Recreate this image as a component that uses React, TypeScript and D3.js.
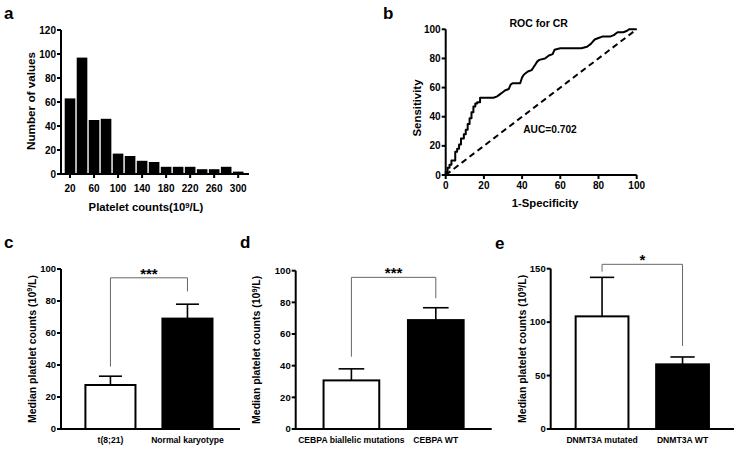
import React from "react";
import * as d3 from "d3";

// ---------- Data ----------
const histBins = [20, 40, 60, 80, 100, 120, 140, 160, 180, 200, 220, 240, 260, 280, 300];
const histCounts = [63, 97, 45, 46, 17, 15, 11, 10, 6, 6, 6, 4, 4, 6, 2];
const histTicksX = [20, 60, 100, 140, 180, 220, 260, 300];
const histTicksY = [0, 20, 40, 60, 80, 100, 120];

const rocFpr = [0, 0, 1, 1, 2, 2, 3, 3, 5, 5, 6, 6, 7, 7, 8, 8, 9.5, 9.5, 10.5, 10.5, 11.5, 11.5, 12.5, 12.5, 13.5, 13.5, 14.5, 14.5, 15.5, 15.5, 16.5, 16.5, 18, 18, 25, 27, 28, 30, 31, 33, 34, 35, 39, 40, 41, 43, 45, 46, 48, 49, 52, 54, 56, 57, 60, 71, 74, 76, 78, 80, 82, 86, 88, 90, 93, 95, 96, 100];
const rocTpr = [0, 2, 2, 5, 5, 7, 7, 10, 10, 16, 16, 18, 18, 21, 21, 25, 25, 28, 28, 31, 31, 35, 35, 39, 39, 43, 43, 47, 47, 49, 49, 50, 50, 53, 53, 54, 55, 57, 58, 59, 62, 63, 63, 67, 69, 71, 72, 74, 78, 79, 80, 82, 83, 86, 87, 87, 88, 90, 93, 94, 95, 95, 96, 98, 98, 99, 100, 100];
const rocTicks = [0, 20, 40, 60, 80, 100];

const cCats = ["t(8;21)", "Normal karyotype"];
const cMedian = [27.5, 69];
const cErr = [33, 78];
const cTicks = [0, 20, 40, 60, 80, 100];
const cBracket = [39, 94.5, 86]; // left end, top, right end (data units)

const dCats = ["CEBPA biallelic mutations", "CEBPA WT"];
const dMedian = [30.7, 68.8];
const dErr = [38, 76.6];
const dTicks = [0, 20, 40, 60, 80, 100];
const dBracket = [45.7, 95.8, 82.6];

const eCats = ["DNMT3A mutated", "DNMT3A WT"];
const eMedian = [105.4, 60.5];
const eErr = [141.9, 67.4];
const eTicks = [0, 50, 100, 150];
const eBracket = [147.2, 154.1, 77.7];

const FONT = "'Liberation Sans', Arial, Helvetica, sans-serif";

function Unit({ pre }: { pre: string }) {
  return (
    <>
      {pre}
      <tspan fontSize="0.68em" dy="-0.45em">9</tspan>
      <tspan dy="0.3em">/L)</tspan>
    </>
  );
}

type BarPanelProps = {
  letter: string;
  letterX: number;
  letterY: number;
  cats: string[];
  med: number[];
  err: number[];
  ticks: number[];
  ymax: number;
  bracket: number[];
  stars: string;
  axisX: number;
  axisEnd: number;
  bandEnd: number;
  yTop: number;
  yBottom: number;
  pi: number;
  po: number;
  titleX: number;
};

function BarPanel(p: BarPanelProps) {
  const y = d3.scaleLinear().domain([0, p.ymax]).range([p.yBottom, p.yTop]);
  const x = d3.scaleBand<string>().domain(p.cats).range([p.axisX, p.bandEnd]).paddingInner(p.pi).paddingOuter(p.po);
  const bw = x.bandwidth();
  const cx = (c: string) => (x(c) as number) + bw / 2;
  const [bl, bt, br] = p.bracket;
  const lx = cx(p.cats[0]);
  const rx = cx(p.cats[1]);
  return (
    <g fontFamily={FONT} fontWeight="bold">
      <text x={p.letterX} y={p.letterY} fontSize={17}>{p.letter}</text>
      {p.cats.map((c, i) => (
        <g key={c}>
          <line x1={cx(c)} x2={cx(c)} y1={y(p.med[i])} y2={y(p.err[i])} stroke="#000" strokeWidth={1.6} />
          <line x1={cx(c) - bw * 0.23} x2={cx(c) + bw * 0.23} y1={y(p.err[i])} y2={y(p.err[i])} stroke="#000" strokeWidth={1.6} />
          <rect x={(x(c) as number)} y={y(p.med[i])} width={bw} height={y(0) - y(p.med[i])}
            fill={i === 0 ? "#fff" : "#000"} stroke="#000" strokeWidth={2} />
          <text x={cx(c)} y={p.yBottom + 14} fontSize={8.6} textAnchor="middle">{c}</text>
        </g>
      ))}
      <path d={`M${lx},${y(bl)}V${y(bt)}H${rx}V${y(br)}`} fill="none" stroke="#666" strokeWidth={1} />
      <text x={(lx + rx) / 2} y={y(bt) + 1} fontSize={15} textAnchor="middle">{p.stars}</text>
      {/* axes */}
      <line x1={p.axisX} x2={p.axisX} y1={p.yBottom + 1} y2={p.yTop} stroke="#000" strokeWidth={2} />
      <line x1={p.axisX - 1} x2={p.axisEnd} y1={p.yBottom} y2={p.yBottom} stroke="#000" strokeWidth={2} />
      {p.ticks.map((t) => (
        <g key={t}>
          <line x1={p.axisX - 4} x2={p.axisX} y1={y(t)} y2={y(t)} stroke="#000" strokeWidth={2} />
          <text x={p.axisX - 5} y={y(t)} dy="0.35em" fontSize={9.5} textAnchor="end">{t}</text>
        </g>
      ))}
      <text transform={`translate(${p.titleX + 4},${(p.yTop + p.yBottom) / 2}) rotate(-90)`} fontSize={10.5}
        textAnchor="middle"><Unit pre="Median platelet counts (10" /></text>
    </g>
  );
}

function Histogram() {
  const x = d3.scaleLinear().domain([5, 318]).range([61, 249]);
  const y = d3.scaleLinear().domain([0, 120]).range([174, 30]);
  return (
    <g fontFamily={FONT} fontWeight="bold">
      <text x={4} y={18.5} fontSize={17}>a</text>
      {histBins.map((b, i) => (
        <rect key={b} x={x(b - 10) + 0.7} y={y(histCounts[i])} width={x(b + 10) - x(b - 10) - 1.4}
          height={y(0) - y(histCounts[i])} fill="#000" />
      ))}
      <line x1={61} x2={61} y1={y(0) + 1} y2={y(120)} stroke="#000" strokeWidth={2} />
      <line x1={60} x2={x(318)} y1={y(0)} y2={y(0)} stroke="#000" strokeWidth={2} />
      {histTicksY.map((t) => (
        <g key={t}>
          <line x1={57} x2={61} y1={y(t)} y2={y(t)} stroke="#000" strokeWidth={2} />
          <text x={56} y={y(t)} dy="0.35em" fontSize={10} textAnchor="end">{t}</text>
        </g>
      ))}
      {histTicksX.map((t) => (
        <g key={t}>
          <line x1={x(t)} x2={x(t)} y1={y(0)} y2={y(0) + 4} stroke="#000" strokeWidth={2} />
          <text x={x(t)} y={191.5} fontSize={10} textAnchor="middle">{t}</text>
        </g>
      ))}
      <text x={146} y={211} fontSize={11.3} textAnchor="middle"><Unit pre="Platelet counts(10" /></text>
      <text transform="translate(30,101) rotate(-90)" fontSize={11.7} textAnchor="middle" dominantBaseline="central">Number of values</text>
    </g>
  );
}

function Roc() {
  const x = d3.scaleLinear().domain([0, 100]).range([445.7, 636.7]);
  const y = d3.scaleLinear().domain([0, 100]).range([175, 29.3]);
  const line = d3.line<number>().x((_, i) => x(rocFpr[i])).y((_, i) => y(rocTpr[i]));
  const diag = d3.line<number>().x((v) => x(v)).y((v) => y(v));
  return (
    <g fontFamily={FONT} fontWeight="bold">
      <text x={383} y={18.5} fontSize={17}>b</text>
      <text x={538.7} y={26.7} fontSize={10.5} textAnchor="middle">ROC for CR</text>
      <path d={diag([0, 100]) || ""} fill="none" stroke="#000" strokeWidth={2} strokeDasharray="6,4" />
      <path d={line(rocFpr) || ""} fill="none" stroke="#000" strokeWidth={2} strokeLinejoin="round" />
      <line x1={x(0)} x2={x(0)} y1={y(0) + 1} y2={y(100)} stroke="#000" strokeWidth={2} />
      <line x1={x(0) - 1} x2={x(100)} y1={y(0)} y2={y(0)} stroke="#000" strokeWidth={2} />
      {rocTicks.map((t) => (
        <g key={t}>
          <line x1={x(0) - 4} x2={x(0)} y1={y(t)} y2={y(t)} stroke="#000" strokeWidth={2} />
          <text x={x(0) - 5} y={y(t)} dy="0.35em" fontSize={10} textAnchor="end">{t}</text>
          <line x1={x(t)} x2={x(t)} y1={y(0)} y2={y(0) + 4} stroke="#000" strokeWidth={2} />
          <text x={x(t)} y={188.5} fontSize={10} textAnchor="middle">{t}</text>
        </g>
      ))}
      <text x={550} y={132.7} fontSize={10.2} textAnchor="middle">AUC=0.702</text>
      <text x={545} y={207} fontSize={11.3} textAnchor="middle">1-Specificity</text>
      <text transform="translate(416.7,108) rotate(-90)" fontSize={11.4} textAnchor="middle" dominantBaseline="central">Sensitivity</text>
    </g>
  );
}

export default function App() {
  return (
    <svg width={744} height={453} style={{ position: "absolute", left: 0, top: 0, background: "#fff" }}>
      <rect width={744} height={453} fill="#fff" />
      <Histogram />
      <Roc />
      <BarPanel letter="c" letterX={4} letterY={248.3} cats={cCats} med={cMedian} err={cErr} ticks={cTicks} ymax={100}
        bracket={cBracket} stars="***" axisX={61} axisEnd={240} bandEnd={236.9} yTop={269} yBottom={429}
        pi={0.35} po={0.317} titleX={31.7} />
      <BarPanel letter="d" letterX={240} letterY={248.3} cats={dCats} med={dMedian} err={dErr} ticks={dTicks} ymax={100}
        bracket={dBracket} stars="***" axisX={295.7} axisEnd={491.7} bandEnd={491.5} yTop={270.7} yBottom={429}
        pi={0.34} po={0.33} titleX={256} />
      <BarPanel letter="e" letterX={495} letterY={249} cats={eCats} med={eMedian} err={eErr} ticks={eTicks} ymax={150}
        bracket={eBracket} stars="*" axisX={550.7} axisEnd={734} bandEnd={733.9} yTop={268.7} yBottom={429}
        pi={0.344} po={0.31} titleX={522} />
    </svg>
  );
}
